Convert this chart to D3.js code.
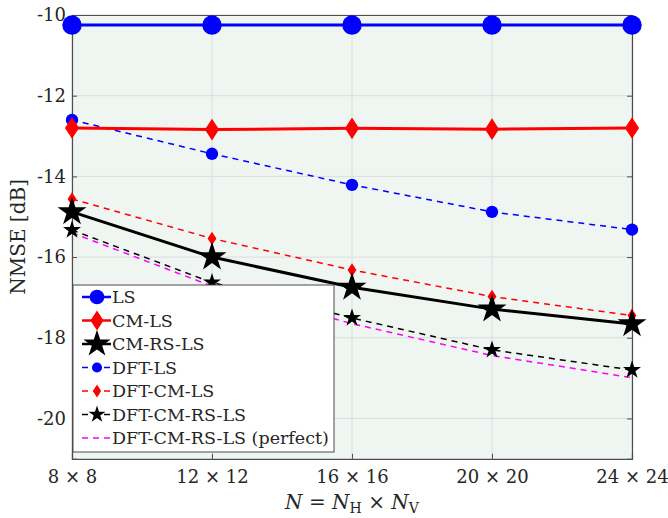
<!DOCTYPE html>
<html>
<head>
<meta charset="utf-8">
<script src="https://cdn.jsdelivr.net/npm/d3@7"></script>
<style>
  body { margin: 0; background: #fff; }
  svg text { font-family: "DejaVu Serif", serif; fill: #262626; }
</style>
</head>
<body>
<div id="chart"></div>
<script>
// x categories (N = NH x NV)
const sizes = ["8 × 8", "12 × 12", "16 × 16", "20 × 20", "24 × 24"];
const yTicks = [-20, -18, -16, -14, -12, -10];

// NMSE [dB] per method
const ls = [-10.25, -10.25, -10.25, -10.25, -10.25];
const cmLs = [-12.80, -12.84, -12.81, -12.83, -12.80];
const cmRsLs = [-14.88, -16.00, -16.75, -17.29, -17.66];
const dftLs = [-12.60, -13.44, -14.21, -14.88, -15.32];
const dftCmLs = [-14.56, -15.54, -16.32, -16.98, -17.45];
const dftCmRsLs = [-15.33, -16.63, -17.51, -18.30, -18.80];
const dftCmRsLsPerfect = [-15.40, -16.72, -17.65, -18.44, -18.99];

const width = 668, height = 518;
const margin = { top: 15, right: 36, bottom: 60, left: 72 };
const FONT = '"DejaVu Serif", serif';

const svg = d3.select("#chart").append("svg")
  .attr("width", width).attr("height", height);

const x = d3.scalePoint().domain(sizes).range([margin.left, width - margin.right]);
const y = d3.scaleLinear().domain([-21, -10]).range([height - margin.bottom + 0.8, margin.top]);

// plot background
svg.append("rect")
  .attr("x", margin.left).attr("y", margin.top)
  .attr("width", width - margin.right - margin.left)
  .attr("height", y(-21) - margin.top)
  .attr("fill", "#eff5f1");

// grid
svg.append("g").selectAll("line").data(yTicks).join("line")
  .attr("x1", margin.left).attr("x2", width - margin.right)
  .attr("y1", d => y(d)).attr("y2", d => y(d))
  .attr("stroke", "#dcdcdc").attr("stroke-width", 1);
svg.append("g").selectAll("line").data(sizes).join("line")
  .attr("x1", d => x(d)).attr("x2", d => x(d))
  .attr("y1", margin.top).attr("y2", y(-21))
  .attr("stroke", "#dcdcdc").attr("stroke-width", 1);

// axes (ticks inward)
const axL = svg.append("g").attr("transform", `translate(${margin.left},0)`)
  .call(d3.axisLeft(y).tickValues(yTicks).tickSize(-5).tickPadding(6).tickFormat(d => "-" + Math.abs(d)));
const axR = svg.append("g").attr("transform", `translate(${width - margin.right},0)`)
  .call(d3.axisRight(y).tickValues(yTicks).tickSize(-5).tickFormat(""));
const axB = svg.append("g").attr("transform", `translate(0,${y(-21)})`)
  .call(d3.axisBottom(x).tickSize(-5).tickPadding(11));
const axT = svg.append("g").attr("transform", `translate(0,${margin.top})`)
  .call(d3.axisTop(x).tickSize(-5).tickFormat(""));
[axL, axR, axB, axT].forEach(g => {
  g.attr("font-family", FONT).attr("font-size", 18);
  g.selectAll("path").attr("stroke", "#4d4d4d").attr("stroke-width", 1.2);
  g.selectAll("line").attr("stroke", "#4d4d4d").attr("stroke-width", 1);
  g.selectAll("text").attr("fill", "#262626");
});

// axis labels
svg.append("text")
  .attr("transform", `translate(25,${(margin.top + y(-21)) / 2}) rotate(-90)`)
  .attr("text-anchor", "middle").attr("font-size", 20)
  .text("NMSE [dB]");
const xl = svg.append("text")
  .attr("x", (margin.left + width - margin.right) / 2).attr("y", 509)
  .attr("text-anchor", "middle").attr("font-size", 20);
xl.append("tspan").attr("font-style", "italic").text("N");
xl.append("tspan").text(" = ");
xl.append("tspan").attr("font-style", "italic").text("N");
xl.append("tspan").attr("font-size", 14).attr("dy", 4).text("H");
xl.append("tspan").attr("dy", -4).text(" × ");
xl.append("tspan").attr("font-style", "italic").text("N");
xl.append("tspan").attr("font-size", 14).attr("dy", 4).text("V");

const series = [
  { name: "LS", values: ls, color: "#0000ff", width: 3, dash: null, marker: "circle", size: 300, lsize: 170 },
  { name: "CM-LS", values: cmLs, color: "#ff0000", width: 3, dash: null, marker: "diamond", size: 230, lsize: 200 },
  { name: "CM-RS-LS", values: cmRsLs, color: "#000000", width: 3, dash: null, marker: "star", size: 260, lsize: 230 },
  { name: "DFT-LS", values: dftLs, color: "#0000ff", width: 1.5, dash: "6,5", marker: "circle", size: 120, lsize: 80 },
  { name: "DFT-CM-LS", values: dftCmLs, color: "#ff0000", width: 1.5, dash: "6,5", marker: "diamond", size: 90, lsize: 80 },
  { name: "DFT-CM-RS-LS", values: dftCmRsLs, color: "#000000", width: 1.5, dash: "6,5", marker: "star", size: 100, lsize: 90 },
  { name: "DFT-CM-RS-LS (perfect)", values: dftCmRsLsPerfect, color: "#ff00ff", width: 1.5, dash: "6,5", marker: null }
];

const symbols = { circle: d3.symbolCircle, star: d3.symbolStar };
function symPath(s, size) {
  if (s.marker === "diamond") {
    const r = Math.sqrt(size) * 0.62;
    return `M0,${-r * 1.15}L${r * 0.75},0L0,${r * 1.15}L${-r * 0.75},0Z`;
  }
  return d3.symbol(symbols[s.marker], size)();
}

const line = d3.line().x((d, i) => x(sizes[i])).y(d => y(d));
const plot = svg.append("g");
series.slice().reverse().forEach(s => {
  const g = plot.append("g");
  g.append("path").datum(s.values)
    .attr("d", line).attr("fill", "none")
    .attr("stroke", s.color).attr("stroke-width", s.width)
    .attr("stroke-dasharray", s.dash);
  if (s.marker) {
    g.selectAll("path.m").data(s.values).join("path").attr("class", "m")
      .attr("transform", (d, i) => `translate(${x(sizes[i])},${y(d)})`)
      .attr("d", symPath(s, s.size)).attr("fill", s.color);
  }
});

// legend
const lg = svg.append("g").attr("transform", "translate(73,285)");
lg.append("rect").attr("width", 261).attr("height", 167)
  .attr("fill", "#fff").attr("stroke", "#4d4d4d").attr("stroke-width", 1);
series.forEach((s, i) => {
  const row = lg.append("g").attr("transform", `translate(0,${12 + i * 23.5})`);
  row.append("line").attr("x1", 9).attr("x2", 38)
    .attr("stroke", s.color).attr("stroke-width", s.width > 2 ? 2.5 : 1.5)
    .attr("stroke-dasharray", s.dash);
  if (s.marker) {
    row.append("path").attr("transform", "translate(24,0)")
      .attr("d", symPath(s, s.lsize)).attr("fill", s.color);
  }
  row.append("text").attr("x", 39).attr("y", 0).attr("dy", "0.35em")
    .attr("font-family", FONT).attr("font-size", 17.5).text(s.name);
});
</script>
</body>
</html>
